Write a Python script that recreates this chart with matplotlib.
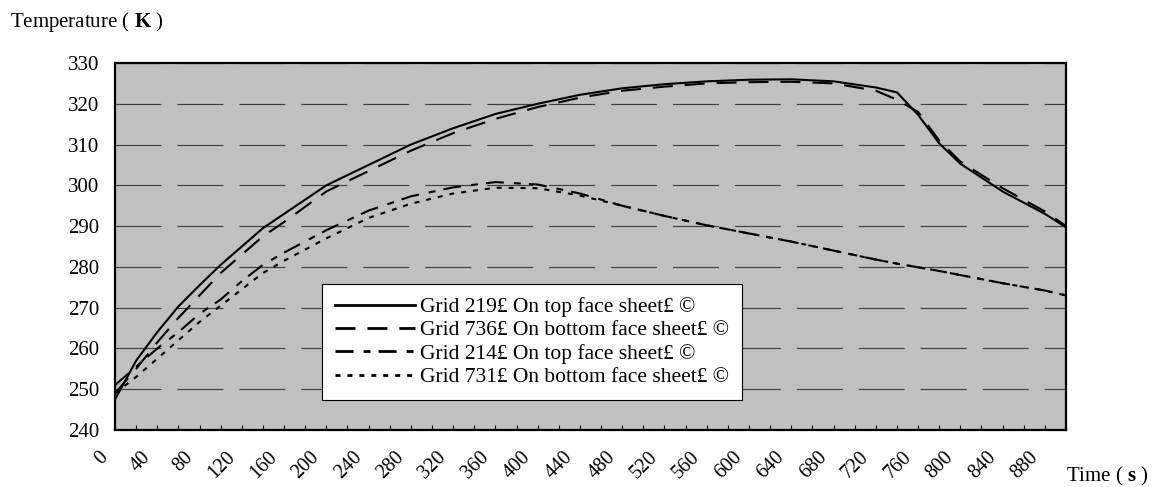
import numpy as np
import matplotlib
matplotlib.use("Agg")
import matplotlib.pyplot as plt
from matplotlib.transforms import ScaledTranslation

# Data -----------------------------
time_s = [0, 20, 40, 60, 80, 100, 120, 140, 160, 200, 240, 280, 320, 360, 400, 440,
          480, 520, 560, 600, 640, 680, 720, 740, 760, 780, 800, 840, 880, 900]

grid_219 = [247.5, 257.0, 264.0, 270.3, 275.5, 280.5, 285.0, 289.5, 293.0, 300.0, 305.0,
            310.0, 314.0, 317.5, 320.0, 322.2, 323.8, 324.8, 325.5, 325.9, 326.0, 325.5,
            324.0, 322.8, 317.3, 310.3, 305.3, 298.5, 293.0, 289.7]
grid_736 = [249.0, 255.0, 261.5, 267.5, 273.0, 278.5, 283.0, 287.5, 291.0, 298.5, 303.5,
            308.5, 312.8, 316.3, 319.2, 321.5, 323.2, 324.2, 325.0, 325.3, 325.4, 325.0,
            323.2, 321.0, 318.0, 311.0, 305.8, 299.3, 293.6, 290.0]
grid_214 = [251.0, 255.5, 260.0, 264.0, 268.5, 272.0, 276.5, 280.5, 283.5, 289.0, 293.8,
            297.3, 299.5, 300.8, 300.2, 298.0, 295.0, 292.5, 290.2, 288.2, 286.2, 284.0,
            281.8, 280.8, 279.9, 279.0, 278.0, 276.0, 274.2, 273.0]
grid_731 = [249.0, 253.0, 257.5, 262.0, 266.5, 270.5, 274.5, 278.5, 281.5, 287.0, 292.0,
            295.5, 298.0, 299.4, 299.3, 297.5, 295.0, 292.5, 290.2, 288.2, 286.2, 284.0,
            281.8, 280.8, 279.9, 279.0, 278.0, 276.0, 274.2, 273.0]

labels = ["Grid 219£ On top face sheet£ ©",
          "Grid 736£ On bottom face sheet£ ©",
          "Grid 214£ On top face sheet£ ©",
          "Grid 731£ On bottom face sheet£ ©"]

y_ticks = list(range(240, 331, 10))
x_major = list(range(0, 900, 40))
x_minor = list(range(0, 901, 20))

# Style ----------
plt.rcParams['font.family'] = ['Liberation Serif', 'DejaVu Serif']
plt.rcParams['font.size'] = 15
plt.rcParams['mathtext.fontset'] = 'custom'
plt.rcParams['mathtext.rm'] = 'Liberation Serif'
plt.rcParams['mathtext.bf'] = 'Liberation Serif:bold'
plt.rcParams['lines.scale_dashes'] = False

fig = plt.figure(figsize=(11.58, 4.87), dpi=100)
ax = fig.add_axes([115/1158, 1 - 430/487, 951/1158, 367/487])
ax.set_facecolor('#C0C0C0')

lw = 1.5
ax.plot(time_s, grid_219, color='black', lw=lw, linestyle='-', label=labels[0])
ax.plot(time_s, grid_736, color='black', lw=lw, linestyle=(0, (14.4, 8.6)), label=labels[1])
ax.plot(time_s, grid_214, color='black', lw=lw, linestyle=(0, (13, 7.2, 5, 5.8)), label=labels[2])
ax.plot(time_s, grid_731, color='black', lw=lw, linestyle=(0, (3.6, 5)), label=labels[3])

ax.set_xlim(0, 900)
ax.set_ylim(240, 330)

# horizontal long-dash gridlines
ax.set_yticks(y_ticks)
ax.yaxis.grid(True, color='#404040', lw=0.85, linestyle=(0, (33.1, 11.5)))
ax.tick_params(axis='y', length=0, pad=11.5, labelsize=15)

ax.set_xticks(x_major)
ax.set_xticks(x_minor, minor=True)
ax.set_xticklabels([str(v) for v in x_major], rotation=45, ha='right', va='top')
ax.tick_params(axis='x', which='both', direction='in', length=3.5, width=0.8, top=False)
ax.tick_params(axis='x', which='major', pad=13, labelsize=14.5)
for lab in ax.get_xticklabels():
    lab.set_transform(lab.get_transform() + ScaledTranslation(-3/100, 0, fig.dpi_scale_trans))

for sp in ax.spines.values():
    sp.set_linewidth(1.6)
    sp.set_color('black')

leg = ax.legend(loc='lower left', bbox_to_anchor=(322/1158, 1 - 400/487),
                bbox_transform=fig.transFigure, borderaxespad=0, fontsize=15.5,
                handlelength=3.7, handletextpad=0.25, labelspacing=0.15,
                borderpad=0.6, fancybox=False, framealpha=1)
leg.get_frame().set_edgecolor('black')
leg.get_frame().set_linewidth(0.8)
for h in leg.get_lines():
    h.set_linewidth(2.0)

fig.text(10/1158, 1 - 22/487, r"Temperature ( $\mathbf{K}$ )", ha='left', va='center', fontsize=15)
fig.text(1066/1158, 1 - 476/487, r"Time ( $\mathbf{s}$ )", ha='left', va='center', fontsize=15)

plt.savefig("out.png", dpi=100)
plt.close()
